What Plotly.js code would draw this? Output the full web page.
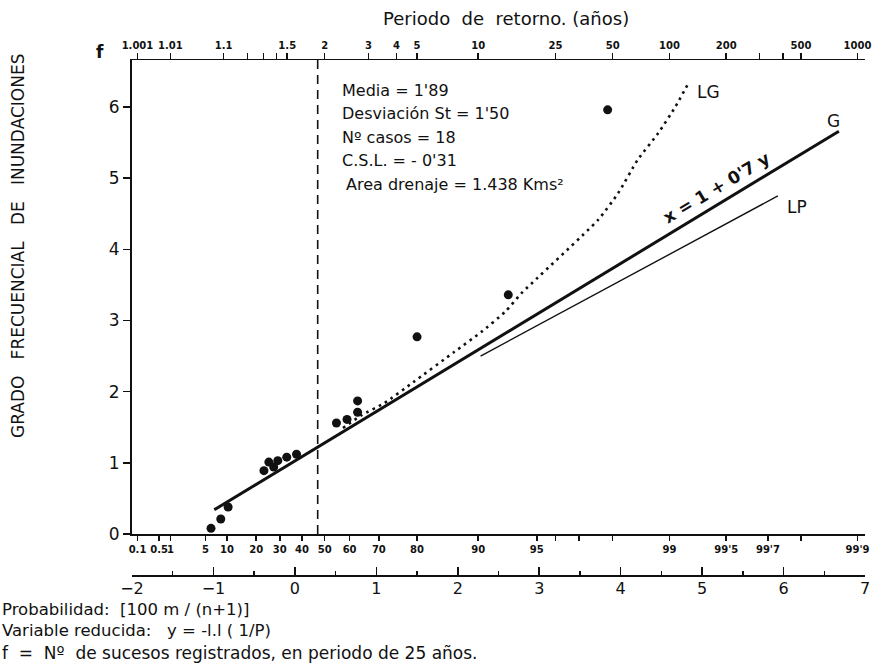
<!DOCTYPE html>
<html><head><meta charset="utf-8">
<script src="https://cdn.plot.ly/plotly-3.0.1.min.js"></script>
<style>html,body{margin:0;padding:0;background:#fff;}</style>
</head><body>
<div id="chart" style="width:872px;height:666px;"></div>
<script>
// ---- data ----
// observed points: reduced variable y, frequency f
const obsY = [-1.03, -0.91, -0.82, -0.38, -0.32, -0.26, -0.21, -0.10, 0.02, 0.51, 0.64, 0.77, 0.77, 1.50, 2.62, 3.84];
const obsF = [0.08, 0.21, 0.38, 0.89, 1.01, 0.94, 1.03, 1.08, 1.12, 1.56, 1.61, 1.71, 1.87, 2.77, 3.36, 5.96];
// Gumbel line G  (x = 1 + 0'7 y)
const gY = [-0.99, 6.68];
const gF = [0.34, 5.66];
// Log-Pearson line LP
const lpY = [2.28, 5.93];
const lpF = [2.50, 4.75];
// Log-Gumbel dotted curve LG
const lgY = [0.59, 0.82, 1.10, 1.45, 1.96, 2.29, 2.58, 2.78, 3.72, 3.97, 4.21, 4.46, 4.67, 4.83];
const lgF = [1.49, 1.67, 1.84, 2.13, 2.56, 2.84, 3.12, 3.38, 4.41, 4.79, 5.26, 5.63, 6.00, 6.33];
// vertical dashed line
const dashY = [0.28, 0.28];
const dashF = [0, 6.66];
// return-period ticks (years)
const periodVals = [1.001, 1.01, 1.1, 1.2, 1.3, 1.4, 1.5, 2, 3, 4, 5, 10, 25, 50, 100, 200, 300, 400, 500, 1000];
const periodText = ['1.001', '1.01', '1.1', '', '', '', '1.5', '2', '3', '4', '5', '10', '25', '50', '100', '200', '', '', '500', '1000'];
// probability ticks (%)
const probVals = [0.1, 0.5, 1, 5, 10, 20, 30, 40, 50, 60, 70, 80, 90, 95, 96, 97, 98, 99, 99.5, 99.7, 99.8, 99.9];
const probText = ['0.1', '0.5', '1', '5', '10', '20', '30', '40', '50', '60', '70', '80', '90', '95', '', '', '', '99', "99'5", "99'7", '', "99'9"];
const fTicks = [0, 1, 2, 3, 4, 5, 6];

// ---- scale helpers (Gumbel reduced variable) ----
const redFromP = p => -Math.log(-Math.log(p));
const redFromT = t => redFromP(1 - 1 / t);

const FONT = 'DejaVu Sans, sans-serif';
const ink = '#111';

const traces = [
  {x: dashY, y: dashF, mode: 'lines', line: {color: ink, width: 1.6, dash: '9px,6px'}, hoverinfo: 'skip'},
  {x: lgY, y: lgF, mode: 'lines', line: {color: ink, width: 2.6, dash: '2.6px,4.4px', shape: 'spline', smoothing: 0.5}, hoverinfo: 'skip'},
  {x: gY, y: gF, mode: 'lines', line: {color: ink, width: 3}, hoverinfo: 'skip'},
  {x: lpY, y: lpF, mode: 'lines', line: {color: ink, width: 1.4}, hoverinfo: 'skip'},
  {x: obsY, y: obsF, mode: 'markers', marker: {color: ink, size: 9}, hoverinfo: 'skip'}
];

const W = 733, H = 515, L = 132, T = 60;
const px = v => (v - L) / W;
const py = v => (T + H - v) / H;

const ann = (text, x, y, opt) => Object.assign({
  text, x: px(x), y: py(y), xref: 'paper', yref: 'paper', showarrow: false,
  font: {family: FONT, size: 16, color: ink}, xanchor: 'left', yanchor: 'middle'
}, opt || {});

const annotations = [
  ann('Periodo  de  retorno. (años)', 506, 18, {xanchor: 'center', font: {family: FONT, size: 18, color: ink}}),
  ann('f', 100, 52, {xanchor: 'center', font: {family: FONT, size: 17, color: ink, weight: 'bold'}}),
  ann('GRADO   FRECUENCIAL   DE   INUNDACIONES', 18, 246, {xanchor: 'center', textangle: -90, font: {family: FONT, size: 17, color: ink}}),
  ann("Media = 1'89", 340, 91),
  ann("Desviación St = 1'50", 340, 114),
  ann('Nº casos = 18', 340, 137),
  ann("C.S.L. = - 0'31", 340, 160),
  ann('Area drenaje = 1.438 Kms²', 344, 184),
  ann('LG', 708, 92, {xanchor: 'center', font: {family: FONT, size: 17, color: ink}}),
  ann('G', 833, 121, {xanchor: 'center', font: {family: FONT, size: 17, color: ink}}),
  ann('LP', 797, 207, {xanchor: 'center', font: {family: FONT, size: 17, color: ink}}),
  ann("x = 1 + 0'7 y", 716, 188, {xanchor: 'center', textangle: -31, font: {family: FONT, size: 17, color: ink, weight: 'bold'}}),
  ann('Probabilidad:  [100 m / (n+1)]<br>Variable reducida:   y = -l.l ( 1/P)', 0, 620, {align: 'left', font: {family: FONT, size: 16.5, color: ink}}),
  ann('f  =  Nº  de sucesos registrados, en periodo de 25 años.', 0, 653, {font: {family: FONT, size: 17, color: ink}})
];

const layout = {
  width: 872, height: 666,
  margin: {l: L, r: 872 - L - W, t: T, b: 666 - T - H},
  paper_bgcolor: '#fff', plot_bgcolor: 'rgba(0,0,0,0)',
  showlegend: false,
  font: {family: FONT, color: ink},
  xaxis: {
    range: [-2, 7], anchor: 'y', side: 'bottom', showgrid: false, zeroline: false,
    showline: true, linecolor: ink, linewidth: 2,
    tickmode: 'array', tickvals: probVals.map(v => redFromP(v / 100)), ticktext: probText,
    ticks: 'outside', ticklen: 5, tickwidth: 1.5, tickcolor: ink, tickangle: 0, ticklabeloverflow: 'allow',
    tickfont: {family: FONT, size: 10, color: ink, weight: 'bold'}
  },
  xaxis2: {
    range: [-2, 7], overlaying: 'x', anchor: 'free', position: 0, side: 'bottom',
    showgrid: false, zeroline: false, showline: true, linecolor: ink, linewidth: 1.5,
    tickmode: 'linear', tick0: -2, dtick: 1, ticks: 'inside', ticklen: 8, tickwidth: 1.5, tickcolor: ink,
    tickangle: 0, ticklabeloverflow: 'allow', ticklabelstandoff: -2,
    minor: {dtick: 0.5, tick0: -2, ticks: 'inside', ticklen: 4, tickwidth: 1.5, tickcolor: ink, showgrid: false},
    tickfont: {family: FONT, size: 16, color: ink}
  },
  xaxis3: {
    range: [-2, 7], overlaying: 'x', anchor: 'y', side: 'top',
    showgrid: false, zeroline: false, showline: true, linecolor: ink, linewidth: 1.5,
    tickmode: 'array', tickvals: periodVals.map(redFromT), ticktext: periodText,
    ticks: 'outside', ticklen: 6, tickwidth: 1.5, tickcolor: ink, tickangle: 0, ticklabeloverflow: 'allow',
    tickfont: {family: FONT, size: 10, color: ink, weight: 'bold'}
  },
  yaxis: {
    range: [0, 6.66], domain: [41 / H, 1], anchor: 'x',
    showgrid: false, zeroline: false, showline: true, linecolor: ink, linewidth: 2,
    tickmode: 'array', tickvals: fTicks, ticks: 'outside', ticklen: 7, tickwidth: 1.5, tickcolor: ink,
    tickfont: {family: FONT, size: 17, color: ink}
  },
  annotations
};

// dummy empty traces so the overlaying axes are drawn
traces.push({x: [null], y: [null], xaxis: 'x2', yaxis: 'y', mode: 'markers', hoverinfo: 'skip', showlegend: false});
traces.push({x: [null], y: [null], xaxis: 'x3', yaxis: 'y', mode: 'markers', hoverinfo: 'skip', showlegend: false});

Plotly.newPlot('chart', traces, layout, {displayModeBar: false, staticPlot: true});
</script>
</body></html>
